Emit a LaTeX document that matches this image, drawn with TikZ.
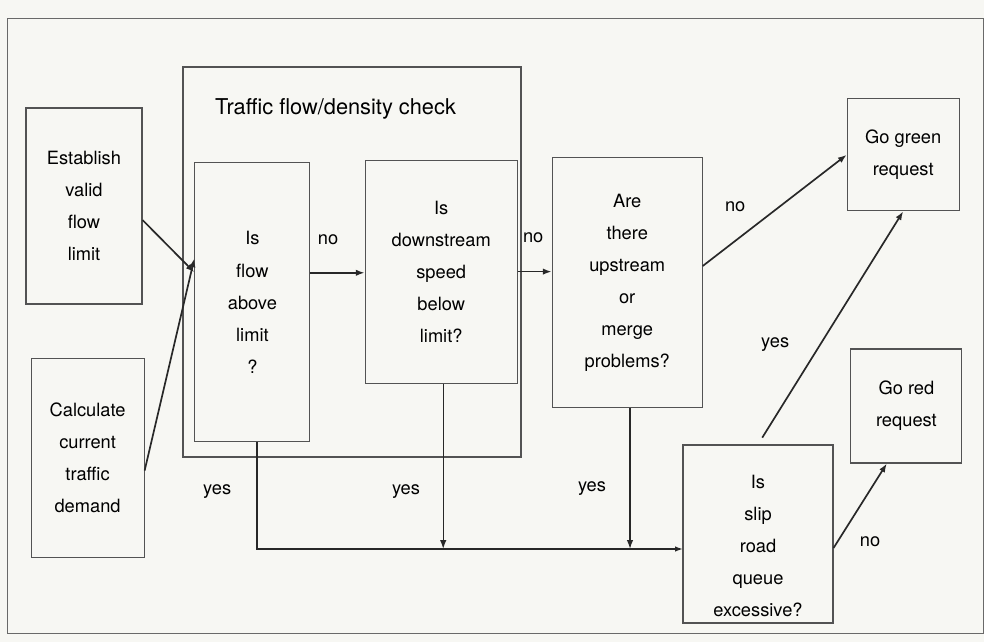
\documentclass[tikz,border=0pt]{standalone}
\usepackage{fontspec}
\setmainfont{TeX Gyre Heros}
\usepackage{tikz}
\usetikzlibrary{arrows.meta,positioning}
\definecolor{paper}{RGB}{247,247,243}
\definecolor{ink}{RGB}{40,40,40}

\begin{document}
\begin{tikzpicture}[
  font=\fontsize{13}{22.8}\selectfont,
  box/.style 2 args={draw=ink!80, line width=.75pt, align=center, inner sep=2pt, minimum width=#1, minimum height=#2},
  arrow/.style={-{Latex[length=2.2mm,width=1.6mm]}, line width=1.2pt, draw=ink},
  bus/.style={line width=1.6pt, draw=ink},
  lbl/.style={inner sep=1pt}
]
\useasboundingbox[fill=paper] (0,0) rectangle (24.6,16.05);
\draw[ink!70, line width=.6pt] (0.175,0.225) rectangle (24.575,15.6);
% boxes
\node[box={8.45cm}{9.75cm}] (check) at (8.8,9.5) {};
\node (title) at (8.39,13.33) {\fontsize{15.5}{18}\selectfont Traffic flow/density check};
\node[box={2.9cm}{4.9cm}] (establish) at (2.1,10.9) {Establish\\valid\\flow\\limit};
\node[box={2.825cm}{4.975cm}] (calculate) at (2.19,4.61) {Calculate\\current\\traffic\\demand};
\node[box={2.875cm}{6.975cm}] (isflow) at (6.31,8.49) {Is\\flow\\above\\limit\\?};
\node[box={3.8cm}{5.575cm}] (downstream) at (11.03,9.26) {Is\\downstream\\speed\\below\\limit?};
\node[box={3.75cm}{6.25cm}] (arethere) at (15.68,8.98) {Are\\there\\upstream\\or\\merge\\problems?};
\node[box={2.8cm}{2.8cm}] (green) at (22.58,12.18) {Go green\\request};
\node[box={2.775cm}{2.85cm}] (red) at (22.66,5.9) {Go red\\request};
\node[box={3.75cm}{4.45cm}] (slip) at (18.95,2.7) {\rule{0pt}{0.95cm}Is\\slip\\road\\queue\\excessive?};
\coordinate (busend) at (17.075,2.325);
% connectors
\draw[arrow] ([yshift=-3.5mm]establish.east) -- ([yshift=7.5mm]isflow.west);
\draw[arrow] ([yshift=-3.25mm]calculate.east) -- ([yshift=11mm]isflow.west);
\draw[arrow] ([yshift=7.4mm]isflow.east) -- ([yshift=7.4mm]isflow.east -| downstream.west);
\draw[arrow] (downstream.east) -- (downstream.east -| arethere.west);
\draw[arrow] ([yshift=4.2mm]arethere.east) -- (green.west);
\draw[arrow, shorten <=2mm] (slip.north) -- (green.south);
\draw[arrow] ([yshift=-3.5mm]slip.east) -- ([xshift=-4.9mm]red.south);
\draw[bus, -{Latex[length=2mm,width=1.4mm]}] ([xshift=1.1mm]isflow.south) |- (busend);
\draw[arrow, line width=1pt] ([xshift=0.5mm]downstream.south) -- ([xshift=0.5mm]downstream.south |- busend);
\draw[arrow, line width=1pt] ([xshift=0.7mm]arethere.south) -- ([xshift=0.7mm]arethere.south |- busend);
% labels
\node[lbl] (no1) at (8.2,10.05) {no};
\node[lbl] (no2) at (13.33,10.1) {no};
\node[lbl] (no3) at (18.38,10.88) {no};
\node[lbl] (yes4) at (19.38,7.43) {yes};
\node[lbl] (no5) at (21.75,2.5) {no};
\node[lbl] (yes1) at (5.43,3.75) {yes};
\node[lbl] (yes2) at (10.15,3.75) {yes};
\node[lbl] (yes3) at (14.8,3.83) {yes};
\end{tikzpicture}
\end{document}
